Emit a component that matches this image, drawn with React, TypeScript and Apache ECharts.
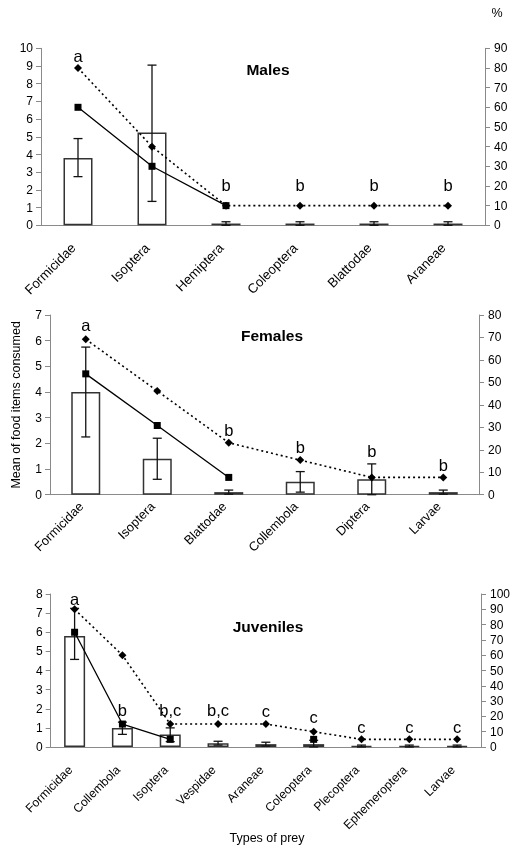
import React, { useEffect, useRef } from "react";
import * as echarts from "echarts";

const FONT = "'Liberation Sans', Arial, sans-serif";

// Males
const maleCats = ["Formicidae", "Isoptera", "Hemiptera", "Coleoptera", "Blattodae", "Araneae"];
const maleMean = [3.8, 5.25, 0.1, 0.1, 0.1, 0.1];
const maleErrLow = [2.75, 1.35, 0, 0, 0, 0];
const maleErrHigh = [4.9, 9.05, 0.2, 0.2, 0.2, 0.2];
const malePctSolid = [60, 30, 10, null, null, null];
const malePctDotted = [80, 40, 10, 10, 10, 10];
const maleLetters = ["a", "", "b", "b", "b", "b"];
const maleLetterY = [9.56, null, 2.25, 2.25, 2.25, 2.25];

// Females
const femaleCats = ["Formicidae", "Isoptera", "Blattodae", "Collembola", "Diptera", "Larvae"];
const femaleMean = [4.0, 1.4, 0.1, 0.5, 0.6, 0.1];
const femaleErrLow = [2.25, 0.6, 0.02, 0.1, 0, 0.02];
const femaleErrHigh = [5.75, 2.2, 0.18, 0.9, 1.2, 0.18];
const femalePctSolid = [53.8, 30.8, 7.7, null, null, null];
const femalePctDotted = [69.2, 46.2, 23.1, 15.4, 7.7, 7.7];
const femaleLetters = ["a", "", "b", "b", "b", "b"];
const femaleLetterY = [6.61, null, 2.53, 1.86, 1.69, 1.15];

// Juveniles
const juvCats = ["Formicidae", "Collembola", "Isoptera", "Vespidae", "Araneae", "Coleoptera", "Plecoptera", "Ephemeroptera", "Larvae"];
const juvMean = [5.8, 1.0, 0.65, 0.2, 0.15, 0.15, 0.05, 0.05, 0.05];
const juvErrLow = [4.58, 0.66, 0.28, 0.1, 0.05, 0, 0, 0, 0];
const juvErrHigh = [7.25, 1.3, 1.0, 0.3, 0.25, 0.35, 0.1, 0.1, 0.1];
const juvPctSolid = [75, 15, 5, null, null, 5, null, null, null];
const juvPctDotted = [90, 60, 15, 15, 15, 10, 5, 5, 5];
const juvLetters = ["a", "b", "b,c", "b,c", "c", "c", "c", "c", "c"];
const juvLetterY = [7.74, 1.96, 1.96, 1.96, 1.87, 1.55, 1.06, 1.06, 1.06];

// Axis ranges
const leftMax = [10, 7, 8];
const rightMax = [90, 80, 100];

const panels = [
  { cats: maleCats, mean: maleMean, lo: maleErrLow, hi: maleErrHigh, solid: malePctSolid, dotted: malePctDotted, letters: maleLetters, letterY: maleLetterY },
  { cats: femaleCats, mean: femaleMean, lo: femaleErrLow, hi: femaleErrHigh, solid: femalePctSolid, dotted: femalePctDotted, letters: femaleLetters, letterY: femaleLetterY },
  { cats: juvCats, mean: juvMean, lo: juvErrLow, hi: juvErrHigh, solid: juvPctSolid, dotted: juvPctDotted, letters: juvLetters, letterY: juvLetterY },
];

const gridDefs = [
  { left: 41, right: 37, top: 48.3, height: 177 },
  { left: 50, right: 43, top: 315, height: 179.7 },
  { left: 50.7, right: 41, top: 594, height: 153 },
];
const barWidths = [29, 29, 21];
const catFont = [13.3, 12.8, 12.2];
const catMargin = [25, 14, 25];

const AXIS_GRAY = "#8a8a8a";

export default function App() {
  const ref = useRef<HTMLDivElement>(null);
  useEffect(() => {
    if (!ref.current) return;
    const chart = echarts.init(ref.current, undefined, { renderer: "svg" });

    const xAxis: any[] = [];
    const yAxis: any[] = [];
    const series: any[] = [];

    panels.forEach((p, i) => {
      xAxis.push({
        type: "category",
        gridIndex: i,
        data: p.cats,
        axisLine: { lineStyle: { color: AXIS_GRAY, width: 1 } },
        axisTick: { lineStyle: { color: AXIS_GRAY }, length: 5 },
        axisLabel: {
          rotate: 45,
          interval: 0,
          color: "#000",
          fontSize: catFont[i],
          fontFamily: FONT,
          margin: catMargin[i],
          verticalAlign: "bottom",
        },
        splitLine: { show: false },
      });
      yAxis.push({
        type: "value",
        gridIndex: i,
        position: "left",
        min: 0,
        max: leftMax[i],
        interval: 1,
        axisLine: { show: true, lineStyle: { color: AXIS_GRAY, width: 1 } },
        axisTick: { show: true, lineStyle: { color: AXIS_GRAY }, length: 5 },
        axisLabel: { color: "#000", fontSize: 12, fontFamily: FONT, margin: 8 },
        splitLine: { show: false },
        ...(i === 1
          ? {
              name: "Mean of food items consumed",
              nameLocation: "middle",
              nameGap: 28,
              nameTextStyle: { color: "#000", fontSize: 12.5, fontFamily: FONT },
            }
          : {}),
      });
      yAxis.push({
        type: "value",
        gridIndex: i,
        position: "right",
        min: 0,
        max: rightMax[i],
        interval: 10,
        axisLine: { show: true, lineStyle: { color: AXIS_GRAY, width: 1 } },
        axisTick: { show: true, lineStyle: { color: AXIS_GRAY }, length: 5 },
        axisLabel: { color: "#000", fontSize: 12, fontFamily: FONT, margin: 9 },
        splitLine: { show: false },
      });

      series.push({
        type: "bar",
        xAxisIndex: i,
        yAxisIndex: 2 * i,
        data: p.mean,
        barWidth: barWidths[i],
        itemStyle: { color: "#fff", borderColor: "#333", borderWidth: 1.5 },
        z: 2,
      });
      series.push({
        type: "custom",
        xAxisIndex: i,
        yAxisIndex: 2 * i,
        data: p.cats.map((_, k) => [k, p.lo[k], p.hi[k]]),
        encode: { x: 0, y: [1, 2] },
        z: 3,
        renderItem: (params: any, api: any) => {
          const x = api.value(0);
          const lo = api.coord([x, api.value(1)]);
          const hi = api.coord([x, api.value(2)]);
          const hw = 4.5;
          const st = { stroke: "#111", lineWidth: 1.3 };
          return {
            type: "group",
            children: [
              { type: "line", shape: { x1: lo[0], y1: lo[1], x2: hi[0], y2: hi[1] }, style: st },
              { type: "line", shape: { x1: hi[0] - hw, y1: hi[1], x2: hi[0] + hw, y2: hi[1] }, style: st },
              { type: "line", shape: { x1: lo[0] - hw, y1: lo[1], x2: lo[0] + hw, y2: lo[1] }, style: st },
            ],
          };
        },
      });
      series.push({
        type: "line",
        xAxisIndex: i,
        yAxisIndex: 2 * i + 1,
        data: p.dotted,
        symbol: "diamond",
        symbolSize: 8,
        itemStyle: { color: "#000" },
        lineStyle: { color: "#000", width: 1.6, type: [2, 3] },
        z: 4,
      });
      series.push({
        type: "line",
        xAxisIndex: i,
        yAxisIndex: 2 * i + 1,
        data: p.solid,
        symbol: "rect",
        symbolSize: 7,
        itemStyle: { color: "#000" },
        lineStyle: { color: "#000", width: 1.3 },
        connectNulls: false,
        z: 5,
      });
      const letterData: any[] = [];
      p.cats.forEach((_, k) => {
        if (p.letterY[k] != null) letterData.push([k, p.letterY[k], p.letters[k]]);
      });
      series.push({
        type: "custom",
        xAxisIndex: i,
        yAxisIndex: 2 * i,
        data: letterData,
        encode: { x: 0, y: 1 },
        z: 6,
        renderItem: (params: any, api: any) => {
          const pt = api.coord([api.value(0), api.value(1)]);
          const item = letterData[params.dataIndex];
          return {
            type: "text",
            x: pt[0],
            y: pt[1],
            style: {
              text: item[2],
              fill: "#000",
              font: `16.5px ${FONT}`,
              align: "center",
              verticalAlign: "middle",
            },
          };
        },
      });
    });

    const txt = (text: string, x: number, y: number, size: number, bold = false) => ({
      type: "text",
      x,
      y,
      style: {
        text,
        fill: "#000",
        font: `${bold ? "bold " : ""}${size}px ${FONT}`,
        align: "center",
        verticalAlign: "middle",
      },
    });

    chart.setOption({
      animation: false,
      textStyle: { fontFamily: FONT },
      grid: gridDefs.map((g) => ({ ...g, containLabel: false })),
      xAxis,
      yAxis,
      series,
      graphic: [
        txt("Males", 268, 69, 15.5, true),
        txt("Females", 272, 335, 15.5, true),
        txt("Juveniles", 268, 626, 15.5, true),
        txt("%", 497, 13, 12.5),
        txt("Types of prey", 267, 838, 12.5),
      ],
    });
    return () => chart.dispose();
  }, []);
  return <div ref={ref} style={{ position: "fixed", left: 0, top: 0, width: 522, height: 848 }} />;
}
